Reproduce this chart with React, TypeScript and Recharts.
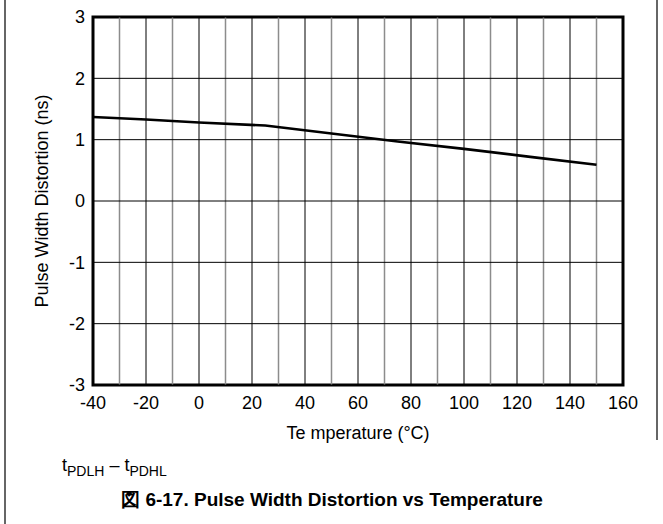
import React from "react";
import { LineChart, Line, XAxis, YAxis, ReferenceLine, ReferenceArea } from "recharts";

const temps = [-40, -20, 0, 25, 50, 75, 100, 125, 150];
const distortion = [1.37, 1.33, 1.28, 1.23, 1.1, 0.97, 0.85, 0.72, 0.59];
const xTicks = [-40, -20, 0, 20, 40, 60, 80, 100, 120, 140, 160];
const xMinor = [-30, -10, 10, 30, 50, 70, 90, 110, 130, 150];
const yTicks = [-3, -2, -1, 0, 1, 2, 3];

const data = temps.map((t, i) => ({ temp: t, pwd: distortion[i] }));

const FONT = '"Liberation Sans", Arial, sans-serif';
const tickStyle = { fontSize: 18, fill: "#000", fontFamily: FONT };

export default function App() {
  return (
    <div
      style={{
        position: "absolute",
        left: 0,
        top: 0,
        width: 663,
        height: 524,
        background: "#fff",
        fontFamily: FONT,
      }}
    >
      {/* figure frame */}
      <div style={{ position: "absolute", left: 4, top: 0, width: 2, height: 524, background: "#666" }} />
      <div style={{ position: "absolute", left: 656, top: 0, width: 2, height: 440, background: "#666" }} />

      <LineChart
        width={663}
        height={524}
        data={data}
        margin={{ top: 17, right: 40, left: 33, bottom: 99 }}
      >
        {xMinor.map((v) => (
          <ReferenceLine key={"m" + v} x={v} stroke="#8c8c8c" strokeWidth={1.5} />
        ))}
        {xTicks.map((v) => (
          <ReferenceLine key={"M" + v} x={v} stroke="#000" strokeWidth={1} />
        ))}
        {yTicks.map((v) => (
          <ReferenceLine key={"y" + v} y={v} stroke="#000" strokeWidth={1} />
        ))}
        <XAxis
          dataKey="temp"
          type="number"
          domain={[-40, 160]}
          ticks={xTicks}
          interval={0}
          height={40}
          axisLine={false}
          tickLine={false}
          tickMargin={5}
          tick={tickStyle}
        />
        <YAxis
          type="number"
          domain={[-3, 3]}
          ticks={yTicks}
          interval={0}
          width={60}
          axisLine={false}
          tickLine={false}
          tick={tickStyle}
        />
        <Line
          type="linear"
          dataKey="pwd"
          stroke="#000"
          strokeWidth={2.6}
          dot={false}
          activeDot={false}
          isAnimationActive={false}
        />
        <ReferenceArea x1={-40} x2={160} y1={-3} y2={3} fill="none" stroke="#000" strokeWidth={3} />
      </LineChart>

      <div
        style={{
          position: "absolute",
          left: 42,
          top: 201,
          transform: "translate(-50%, -50%) rotate(-90deg)",
          whiteSpace: "nowrap",
          fontSize: 18,
        }}
      >
        Pulse Width Distortion (ns)
      </div>
      <div
        style={{
          position: "absolute",
          left: 358,
          top: 433,
          transform: "translate(-50%, -50%)",
          whiteSpace: "nowrap",
          fontSize: 18,
        }}
      >
        Te mperature (°C)
      </div>
      <div
        style={{
          position: "absolute",
          left: 62,
          top: 455,
          whiteSpace: "nowrap",
          fontSize: 18,
        }}
      >
        t<sub style={{ fontSize: 14 }}>PDLH</sub> – t<sub style={{ fontSize: 14 }}>PDHL</sub>
      </div>
      <div
        style={{
          position: "absolute",
          left: 332,
          top: 500,
          transform: "translate(-50%, -50%)",
          whiteSpace: "nowrap",
          fontSize: 19,
          fontWeight: "bold",
        }}
      >
        図 6-17. Pulse Width Distortion vs Temperature
      </div>
    </div>
  );
}
